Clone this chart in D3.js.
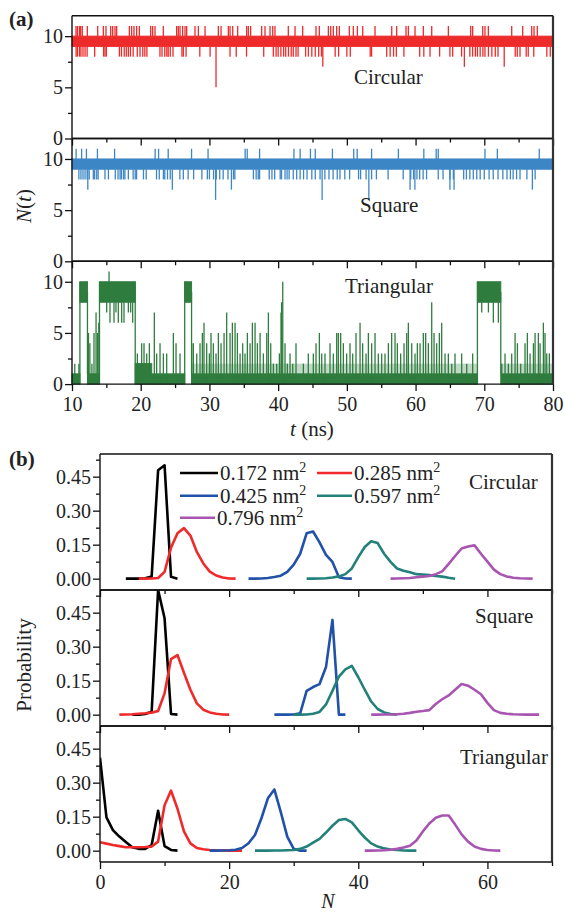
<!DOCTYPE html>
<html>
<head>
<meta charset="utf-8">
<script src="https://cdn.jsdelivr.net/npm/d3@7"></script>
<style>
  body { margin: 0; background: #fff; }
  text { font-family: "Liberation Serif", Tinos, "Times New Roman", "DejaVu Serif", "Noto Serif", serif; fill: #222; }
</style>
</head>
<body>
<svg id="chart" width="565" height="913"></svg>
<script>
// ---------- panel (a) data : N(t) traces ----------
const timeTicks = [10, 20, 30, 40, 50, 60, 70, 80];
const timeMinor = [15, 25, 35, 45, 55, 65, 75];
const countTicks = [0, 5, 10];
const countMinor = [2.5, 7.5];
const shapeNames = ["Circular", "Square", "Triangular"];

// circular: dense 9-10 band, spikes up to 11, dips to 8, a few deeper dips
const circBand = [[10, 80, 9, 10]];
const circUp = [10.58,10.78,11.07,11.26,11.5,12.23,13.74,14.56,14.95,15.63,15.92,16.26,16.5,18.35,18.68,19.02,19.41,19.8,
  21.45,21.74,22.08,23.29,25.23,25.47,25.72,26.1,26.45,26.69,27.9,28.39,29.36,31.3,31.69,32.75,33.0,33.39,34.11,35.42,
  35.66,36.0,37.6,38.09,38.82,39.21,39.54,41.48,42.46,43.57,45.51,45.99,47.31,47.65,48.03,48.52,48.91,50.36,50.94,51.53,
  52.31,54.1,56.53,57.25,58.61,58.95,59.92,61.13,62.35,64.77,68.02,68.31,69.77,70.1,70.59,73.99,75.59,76.9,77.24,77.72];
const circDown = [10.6,10.8,11.1,11.3,11.6,11.9,12.2,13.3,14.6,14.8,15.0,16.9,17.2,17.6,17.9,18.2,18.5,18.9,19.5,19.9,
  20.3,20.6,20.9,22.8,23.1,23.5,23.8,24.0,24.3,24.7,26.0,26.2,26.6,28.6,30.1,33.0,33.9,35.4,37.9,39.3,39.7,40.0,40.4,
  40.8,41.1,41.5,41.9,42.2,42.6,42.9,44.0,44.4,44.9,45.4,45.9,46.3,48.3,48.8,50.0,50.5,53.4,53.6,55.8,56.3,56.8,57.2,
  58.3,60.6,61.2,62.1,63.5,65.0,65.4,66.7,67.9,68.3,68.7,69.0,69.4,69.8,70.1,70.6,71.1,71.6,72.0,74.5,74.8,75.2,76.1,
  76.4,77.2,79.1,79.6];
const circDeep = [[30.96, 5], [46.5, 7], [67.1, 7], [72.9, 7]];

// square
const squareBand = [[10, 80, 9, 10]];
const squareUp = [10.6,11.4,12.1,13.7,16.2,22.1,22.6,24.0,27.4,29.8,35.2,35.5,37.3,42.3,43.2,44.7,45.4,47.9,51.0,51.5,
  53.6,57.5,61.2,63.0,63.3,70.1,71.9,78.0];
const squareDown = [11.0,11.3,11.6,11.9,12.2,12.5,13.1,13.3,13.6,13.8,14.8,15.3,16.3,16.7,17.0,17.2,17.5,17.7,18.2,18.9,
  19.2,19.4,20.4,20.8,22.3,22.7,23.3,23.5,23.9,24.3,25.7,26.2,26.9,27.7,28.9,29.7,30.0,30.6,31.0,31.5,32.0,32.7,33.5,
  33.7,36.4,36.8,37.1,37.3,38.7,39.1,39.5,40.3,40.5,41.0,41.3,41.6,42.2,42.7,43.2,43.7,44.2,44.9,45.4,46.1,46.8,47.4,
  48.0,48.6,49.0,49.7,50.4,51.7,52.0,52.8,53.6,54.3,56.0,58.2,59.3,59.7,60.2,60.6,61.1,61.6,63.3,64.0,65.0,65.5,67.0,
  67.4,67.9,68.4,68.9,69.4,70.0,70.7,71.3,72.0,72.7,73.3,73.8,74.2,74.7,75.2,76.2,77.4];
const squareDeep = [[12.3,7],[24.6,7],[30.9,6],[33.2,7],[46.4,6],[53.2,6],[59.2,7],[59.9,7],[65.0,7],[65.6,7],[77.0,7]];

// triangular: [t0, t1, lo, hi] dense bands, plus sparse 1-2 bands
const triBand = [[10.0,11.15,0,1],[11.15,12.25,8,10],[12.25,14.0,0,1],[14.0,19.2,8,10],[19.2,21.6,0,2],[21.6,26.4,0,1],
  [26.4,27.4,8,10],[27.4,40.5,0,1],[40.5,69.0,0,1],[69.0,72.4,8,10],[72.4,80,0,1]];
const triSparse = [[27.4,40.5,1,2],[40.8,69.0,1,2],[72.4,80,1,2]];
// vertical strokes [t, lo, hi]
const triEdges = [[11.15,0,10],[12.25,1,9],[14.0,0,10],[19.2,0,10],[26.4,0,10],[27.4,1,9],[40.67,0,10],[40.5,0,8],
  [69.0,0,10],[72.4,1,9],[15.39,10,11]];
const triUp = [[10.4,2],[11.0,2],[12.3,4],[12.4,5],[12.6,4],[12.9,2],[13.2,5],[13.5,7],[13.7,5],[13.9,6],
  [19.51,3],[20.14,4],[20.48,4],[20.87,3],[21.26,4],[21.98,7],[22.32,3],[22.81,4],[23.3,3],[23.78,3],[24.75,5],[25.14,4],[25.72,3],
  [27.42,4],[27.66,4],[28.15,3],[28.63,4],[28.97,5],[29.21,6],[29.6,4],[29.99,3],[30.23,5],[30.57,4],[30.96,3],[31.3,5],
  [31.69,4],[32.13,5],[32.51,7],[33.0,5],[33.34,6],[33.73,6],[34.07,5],[34.46,3],[34.84,4],[35.18,3],[35.52,5],[35.91,4],
  [36.25,6],[36.64,6],[36.98,4],[37.37,5],[37.85,3],[38.34,5],[38.58,7],[38.92,4],[39.31,2],[39.79,2],[40.18,3],[40.42,7],
  [41.0,4],[41.34,2],[41.73,3],[42.12,2],[42.6,4],[43.67,2],[44.39,3],[45.12,3],[45.51,4],[46.0,5],[46.34,3],[46.82,3],
  [47.55,4],[48.03,3],[48.52,5],[48.76,5],[49.1,5],[49.49,4],[49.97,3],[50.46,4],[50.85,3],[51.33,5],[51.92,6],[52.3,4],
  [52.79,3],[53.13,5],[53.61,4],[54.1,5],[54.58,3],[55.07,3],[55.55,3],[56.04,4],[56.52,5],[57.01,5],[57.35,4],[57.83,3],
  [58.32,4],[58.71,5],[58.95,6],[59.44,4],[59.92,3],[60.26,4],[60.65,4],[61.13,5],[61.47,5],[61.86,4],[62.35,8],[62.69,5],
  [63.07,4],[63.46,5],[63.8,6],[64.29,3],[64.77,3],[65.26,2],[65.74,3],[66.71,3],[67.44,2],[68.31,3],
  [72.54,2],[73.02,3],[73.51,2],[73.99,3],[74.48,5],[74.82,4],[75.3,2],[75.93,4],[76.27,5],[76.66,3],[77.15,4],[77.39,5],
  [77.87,5],[78.12,4],[78.6,6],[78.84,5],[79.09,3],[79.47,3]];
const triDown = [[15.05,7],[15.53,6],[16.11,6],[16.4,7],[16.74,6],[17.23,6],[17.57,6],[18.2,7],[18.54,7],[18.83,6],
  [69.63,7],[70.6,7],[71.32,6],[72.05,6]];

// ---------- panel (b) data : probability distributions ----------
const sizeLabels = ["0.172", "0.285", "0.425", "0.597", "0.796"];
const nTicks = [0, 20, 40, 60];
const nMinor = [10, 30, 50, 70];
const probTicks = [0, 0.15, 0.30, 0.45];
const probMinor = [0.075, 0.225, 0.375, 0.525];

// first N of each curve, then P(N) for N, N+1, ...
const circStart = [4, 6, 23, 32, 45];
const circP172 = [0,0,0,0.002,0.01,0.478,0.50,0.008,0];
const circP285 = [0,0,0.001,0.003,0.03,0.137,0.20,0.223,0.19,0.118,0.067,0.031,0.014,0.005,0.001,0];
const circP425 = [0,0,0.001,0.003,0.007,0.013,0.03,0.062,0.11,0.20,0.208,0.16,0.105,0.074,0.006,0.001,0];
const circP597 = [0,0,0.001,0.002,0.005,0.01,0.02,0.045,0.095,0.14,0.165,0.157,0.11,0.074,0.045,0.035,0.028,0.02,0.018,0.016,0.012,0.009,0.004,0];
const circP796 = [0,0.001,0.002,0.003,0.006,0.009,0.012,0.02,0.032,0.065,0.1,0.133,0.142,0.147,0.11,0.075,0.04,0.02,0.01,0.004,0.002,0.001,0];

const squareStart = [5, 3, 27, 30, 42];
const squareP172 = [0,0,0.003,0.013,0.55,0.425,0.003,0];
const squareP285 = [0,0.001,0.002,0.004,0.006,0.009,0.016,0.094,0.245,0.263,0.185,0.11,0.05,0.022,0.01,0.004,0.001,0];
const squareP425 = [0,0,0,0.001,0.006,0.105,0.122,0.135,0.21,0.418,0,0];
const squareP597 = [0,0,0.001,0.004,0.012,0.045,0.105,0.168,0.2,0.215,0.165,0.11,0.058,0.025,0.01,0.003,0];
const squareP796 = [0,0,0.001,0.001,0.002,0.004,0.008,0.013,0.016,0.02,0.047,0.068,0.085,0.11,0.135,0.128,0.11,0.09,0.052,0.02,0.008,0.004,0.002,0.001,0,0,0];

const triStart = [0, 0, 17, 24, 41];
const triP172 = [0.41,0.147,0.091,0.062,0.038,0.015,0.008,0.008,0.025,0.176,0.02,0.003,0];
const triP285 = [0.037,0.031,0.025,0.02,0.015,0.015,0.015,0.016,0.018,0.04,0.2,0.265,0.185,0.085,0.032,0.012,0.006,0.003,0.001,0.001,0,0,0];
const triP425 = [0,0,0.001,0.002,0.004,0.012,0.033,0.069,0.143,0.231,0.27,0.17,0.062,0.008,0,0];
const triP597 = [0,0,0,0.001,0.001,0.002,0.003,0.008,0.018,0.035,0.052,0.08,0.11,0.135,0.14,0.125,0.09,0.058,0.032,0.018,0.01,0.005,0.003,0.001,0,0];
const triP796 = [0,0,0.001,0.002,0.004,0.008,0.014,0.022,0.045,0.085,0.12,0.145,0.155,0.155,0.115,0.072,0.04,0.018,0.008,0.003,0.001,0];

// ---------- drawing ----------
const traceColors = ["#ee2b2b", "#3d86c6", "#2f7d3e"];
const sizeColors = ["#000000", "#f02a2a", "#2152a8", "#23807a", "#a855b2"];
const serif = '"Liberation Serif", Tinos, "Times New Roman", "DejaVu Serif", "Noto Serif", serif';

const svg = d3.select("#chart");

// (a) layout
const aLeft = 72, aRight = 553, aTop = 15.7, aH = 122.8;
const xA = d3.scaleLinear().domain([10, 80]).range([aLeft, aRight]);

// (b) layout
const bLeft = 100, bRight = 552, bTop = 454, bH = 136;
const xB = d3.scaleLinear().domain([0, 70]).range([bLeft, bRight]);

function styleAxis(g, size) {
  g.attr("font-family", serif).attr("font-size", size);
  g.selectAll(".domain").remove();
  g.selectAll("line").attr("stroke", "#111").attr("stroke-width", 1.3);
  g.selectAll("text").attr("fill", "#222");
}

function panelAxes(x, y, top, h, left, right, xMaj, xMin, yMaj, yMin, yFmt, showX) {
  const bottom = top + h;
  const gy = svg.append("g").attr("transform", `translate(${left},0)`);
  gy.call(d3.axisLeft(y).tickValues(yMaj).tickSize(7).tickPadding(2).tickFormat(yFmt));
  styleAxis(gy, 20);
  const gy2 = svg.append("g").attr("transform", `translate(${left},0)`);
  gy2.call(d3.axisLeft(y).tickValues(yMin).tickSize(4).tickFormat(""));
  styleAxis(gy2, 20);

  const gx = svg.append("g").attr("transform", `translate(0,${bottom})`);
  gx.call(d3.axisBottom(x).tickValues(xMaj).tickSize(7).tickPadding(6)
    .tickFormat(showX ? d3.format("d") : ""));
  styleAxis(gx, 20);
  const gx2 = svg.append("g").attr("transform", `translate(0,${bottom})`);
  gx2.call(d3.axisBottom(x).tickValues(xMin).tickSize(4).tickFormat(""));
  styleAxis(gx2, 20);

  // frame
  svg.append("line").attr("x1", left).attr("x2", right).attr("y1", top).attr("y2", top)
    .attr("stroke", "#111").attr("stroke-width", 1.4);
  svg.append("line").attr("x1", left).attr("x2", right).attr("y1", bottom).attr("y2", bottom)
    .attr("stroke", "#111").attr("stroke-width", 1.4);
  svg.append("line").attr("x1", left).attr("x2", left).attr("y1", top).attr("y2", bottom)
    .attr("stroke", "#111").attr("stroke-width", 1.4);
  svg.append("line").attr("x1", right).attr("x2", right).attr("y1", top).attr("y2", bottom)
    .attr("stroke", "#333").attr("stroke-width", 2.2);
}

// ---- panel (a) ----
const aTraces = [
  { band: circBand, sparse: [], strokes: [].concat(
      circUp.map(t => [t, 10, 11]), circDown.map(t => [t, 8, 9]), circDeep.map(d => [d[0], d[1], 9])) },
  { band: squareBand, sparse: [], strokes: [].concat(
      squareUp.map(t => [t, 10, 11]), squareDown.map(t => [t, 8, 9]), squareDeep.map(d => [d[0], d[1], 9])) },
  { band: triBand, sparse: triSparse, strokes: [].concat(
      triEdges, triUp.map(d => [d[0], 0, d[1]]), triDown.map(d => [d[0], d[1], 8])) }
];
const aLabelPos = [[354, 84], [360, 212], [345, 293]];

aTraces.forEach((tr, i) => {
  const top = aTop + i * aH;
  const y = d3.scaleLinear().domain([0, 12]).range([top + aH, top]);
  const col = traceColors[i];
  const g = svg.append("g");

  g.selectAll("rect.sparse").data(tr.sparse).enter().append("rect")
    .attr("x", d => xA(d[0])).attr("width", d => xA(d[1]) - xA(d[0]))
    .attr("y", d => y(d[3])).attr("height", d => y(d[2]) - y(d[3]))
    .attr("fill", col).attr("opacity", 0.3);

  g.selectAll("rect.band").data(tr.band).enter().append("rect")
    .attr("x", d => xA(d[0])).attr("width", d => xA(d[1]) - xA(d[0]))
    .attr("y", d => y(d[3])).attr("height", d => y(d[2]) - y(d[3]))
    .attr("fill", col).attr("stroke", col).attr("stroke-width", 1);

  g.selectAll("line.spike").data(tr.strokes).enter().append("line")
    .attr("x1", d => xA(d[0])).attr("x2", d => xA(d[0]))
    .attr("y1", d => y(d[1])).attr("y2", d => y(d[2]))
    .attr("stroke", col).attr("stroke-width", 1.3);

  panelAxes(xA, y, top, aH, aLeft, aRight, timeTicks, timeMinor, countTicks, countMinor,
    d3.format("d"), i === 2);

  svg.append("text").attr("x", aLabelPos[i][0]).attr("y", aLabelPos[i][1])
    .attr("font-size", 21).text(shapeNames[i]);
});

// ---- panel (b) ----
const bData = [
  { start: circStart, curves: [circP172, circP285, circP425, circP597, circP796] },
  { start: squareStart, curves: [squareP172, squareP285, squareP425, squareP597, squareP796] },
  { start: triStart, curves: [triP172, triP285, triP425, triP597, triP796] }
];
const bLabelPos = [[469, 489], [475, 623], [460, 764]];

bData.forEach((panel, i) => {
  const top = bTop + i * bH;
  const y = d3.scaleLinear().domain([-0.05, 0.55]).range([top + bH, top]);
  const clipId = "clipb" + i;
  svg.append("clipPath").attr("id", clipId).append("rect")
    .attr("x", bLeft).attr("y", top).attr("width", bRight - bLeft).attr("height", bH);
  const line = d3.line().x(d => xB(d[0])).y(d => y(d[1]));
  const g = svg.append("g").attr("clip-path", `url(#${clipId})`);
  panel.curves.forEach((vals, k) => {
    const pts = vals.map((p, j) => [panel.start[k] + j, p]);
    g.append("path").datum(pts).attr("d", line)
      .attr("fill", "none").attr("stroke", sizeColors[k]).attr("stroke-width", 2.6)
      .attr("stroke-linejoin", "round");
  });

  panelAxes(xB, y, top, bH, bLeft, bRight, nTicks, nMinor, probTicks, probMinor,
    d3.format(".2f"), i === 2);

  svg.append("text").attr("x", bLabelPos[i][0]).attr("y", bLabelPos[i][1])
    .attr("font-size", 21).text(shapeNames[i]);
});

// legend
const legendPos = [[180, 473], [317, 473], [180, 495.7], [317, 495.7], [180, 517.7]];
sizeLabels.forEach((lab, k) => {
  const [lx, ly] = legendPos[k];
  const len = k % 2 === 0 && k < 4 ? 38 : 35;
  svg.append("line").attr("x1", lx).attr("x2", lx + len).attr("y1", ly).attr("y2", ly)
    .attr("stroke", sizeColors[k]).attr("stroke-width", 2.6);
  const t = svg.append("text").attr("x", lx + len + 2).attr("y", ly + 7).attr("font-size", 21);
  t.append("tspan").text(lab + " nm");
  t.append("tspan").attr("dy", -8).attr("font-size", 14).text("2");
});

// axis titles and panel tags
svg.append("text").attr("x", 9).attr("y", 26).attr("font-size", 21).attr("font-weight", "bold").text("(a)");
svg.append("text").attr("x", 9).attr("y", 466).attr("font-size", 21).attr("font-weight", "bold").text("(b)");

const tA = svg.append("text").attr("x", 312).attr("y", 436).attr("font-size", 21).attr("text-anchor", "middle");
tA.append("tspan").attr("font-style", "italic").text("t");
tA.append("tspan").text(" (ns)");

const nt = svg.append("text").attr("transform", "translate(31,206) rotate(-90)")
  .attr("font-size", 21).attr("text-anchor", "middle");
nt.append("tspan").attr("font-style", "italic").text("N");
nt.append("tspan").text("(");
nt.append("tspan").attr("font-style", "italic").text("t");
nt.append("tspan").text(")");

svg.append("text").attr("transform", "translate(31,665) rotate(-90)")
  .attr("font-size", 21).attr("text-anchor", "middle").text("Probability");

svg.append("text").attr("x", 328).attr("y", 908).attr("font-size", 20)
  .attr("text-anchor", "middle").attr("font-style", "italic").text("N");
</script>
</body>
</html>
